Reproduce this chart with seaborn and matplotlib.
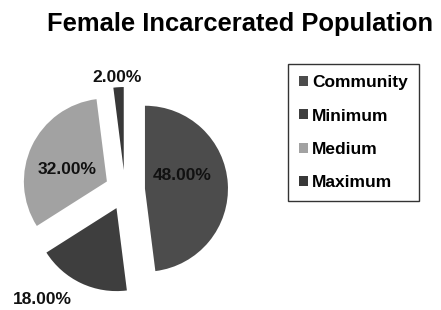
import matplotlib
matplotlib.use("Agg")
import matplotlib.pyplot as plt
import seaborn as sns

# Data
categories = ["Community", "Minimum", "Medium", "Maximum"]
shares = [48.0, 18.0, 32.0, 2.0]
colors = ["#4c4c4c", "#3e3e3e", "#a2a2a2", "#383838"]

sns.set_style("white")
plt.rcParams["font.family"] = ["Liberation Sans", "DejaVu Sans"]
plt.rcParams["text.color"] = "black"

W, H = 441, 310
fig = plt.figure(figsize=(W / 100, H / 100), dpi=100)
ax = fig.add_axes([0, 0, 1, 1])

# pixel-like layout: pie centre and radius
center = (125, H - 190)
radius = 83
explode = [20, 20, 20, 20]

wedges, texts, autotexts = ax.pie(
    shares,
    colors=colors,
    startangle=90,
    counterclock=False,
    center=center,
    radius=radius,
    explode=explode,
    autopct="%.2f%%",
    textprops={"fontsize": 12.5, "fontweight": "bold", "color": "#111111"},
    wedgeprops={"linewidth": 0},
)

# Excel-style label placement
label_pos = [(182, H - 175), (42, H - 300), (67, H - 170), (117, H - 78)]
for t, pos in zip(autotexts, label_pos):
    t.set_position(pos)
    t.set_ha("center")
    t.set_va("center")

ax.set_xlim(0, W)
ax.set_ylim(0, H)
ax.set_aspect("equal")
ax.axis("off")

fig.text(240 / W, 1 - 24 / H, "Female Incarcerated Population",
         ha="center", va="center", fontsize=18.4, fontweight="bold",
         color="black")

leg = ax.legend(
    wedges,
    categories,
    loc="upper left",
    bbox_to_anchor=(288 / W, 1 - 64 / H),
    bbox_transform=fig.transFigure,
    frameon=True,
    fancybox=False,
    edgecolor="black",
    handlelength=0.5,
    handleheight=0.5,
    handletextpad=0.25,
    labelspacing=1.05,
    borderpad=0.65,
    borderaxespad=0,
    prop={"size": 12.5, "weight": "bold"},
)
leg.get_frame().set_linewidth(1.0)
for t in leg.get_texts():
    t.set_color("black")

fig.savefig("out.png", dpi=100)
